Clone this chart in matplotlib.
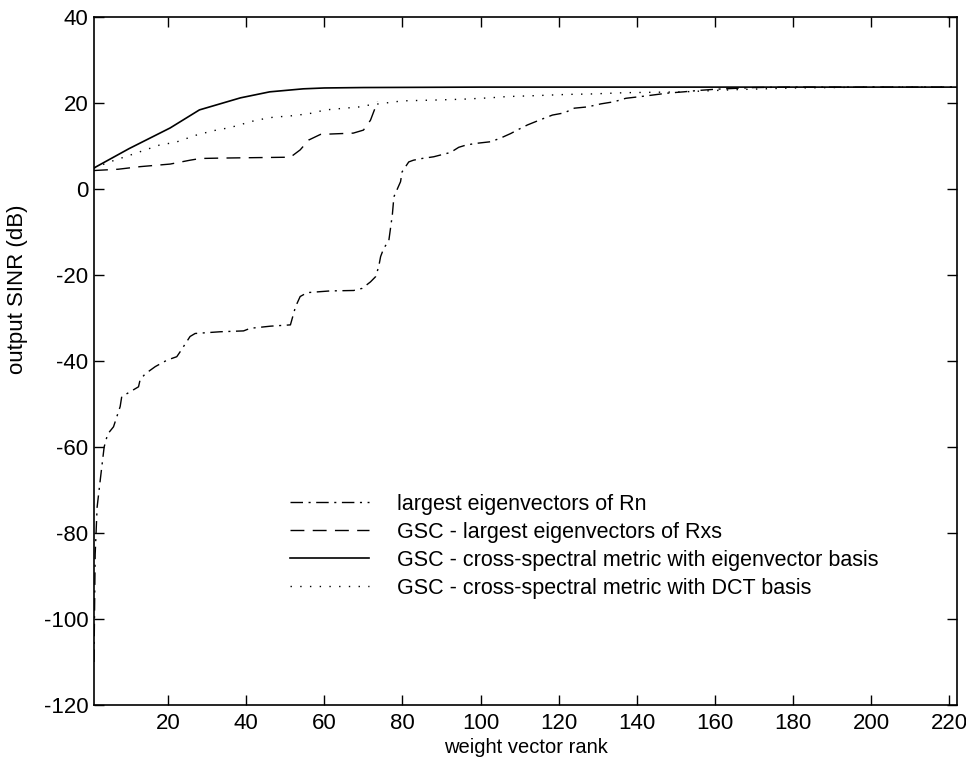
#!/usr/bin/env python3
"""output SINR vs weight vector rank (GSC / eigenvector comparison)"""

import matplotlib
matplotlib.use('Agg')
import matplotlib.pyplot as plt

plt.rcParams['font.family'] = ['Liberation Sans', 'DejaVu Sans']
plt.rcParams['axes.unicode_minus'] = False

# largest eigenvectors of Rn (dash-dot)
rn_rank = [1, 1.3, 1.8, 2.6, 3.6, 4.5, 6, 7.7, 8.1, 9.8, 12.4, 12.8, 14.1, 16.7,
           19.7, 22.2, 23.1, 25.6, 26.9, 33.3, 39.3, 41, 46.2, 51.3, 52.6, 53.8,
           55.6, 61.5, 67.5, 69.7, 71.8, 73.1, 73.9, 74.4, 75.2, 76.5, 77.4, 77.8,
           79.5, 79.9, 81.6, 82.8, 85, 88, 89.7, 92.3, 94.4, 96.2, 98.7, 102.6,
           105, 107.7, 109.8, 112, 115, 118.4, 121.4, 124, 127.4, 130.8, 134.2,
           137.2, 141.9, 147.9, 152, 155.5, 160, 165, 170, 180, 200, 222]
rn_sinr = [-110, -85, -74, -67.7, -60, -57, -55.3, -50.6, -48.3, -47.4, -46, -44.4,
           -43, -41.3, -39.8, -39, -37.8, -34.3, -33.6, -33.2, -33, -32.4, -31.9,
           -31.6, -27.4, -25, -24.1, -23.7, -23.6, -23.1, -21.6, -20.4, -18.1,
           -15.7, -13.8, -12, -6, -1.8, 1.7, 4.0, 6.3, 6.7, 7.1, 7.5, 7.9, 8.5,
           9.7, 10.2, 10.6, 11.0, 11.8, 12.9, 13.9, 14.9, 16, 17.2, 17.7, 18.8,
           19.1, 19.8, 20.3, 21.1, 21.6, 22.3, 22.6, 22.9, 23.2, 23.4, 23.6,
           23.7, 23.7, 23.7]

# GSC - largest eigenvectors of Rxs (dashed)
rxs_rank = [1, 7.2, 12.8, 20.5, 25.6, 28.2, 34, 51.3, 53.8, 56, 59, 67.4, 70,
            71.8, 73.1, 73.6]
rxs_sinr = [4.3, 4.6, 5.2, 5.8, 6.7, 7.1, 7.2, 7.4, 9.1, 11.4, 12.7, 13.0, 13.7,
            16, 19.1, 20.4]

# GSC - cross-spectral metric, eigenvector basis (solid)
csm_rank = [1, 10, 20.5, 28, 38.5, 46, 54.6, 60, 70, 100, 222]
csm_sinr = [4.9, 9.4, 14.2, 18.4, 21.2, 22.6, 23.3, 23.5, 23.6, 23.7, 23.7]

# GSC - cross-spectral metric, DCT basis (dotted)
dct_rank = [1, 5, 10, 17.7, 22, 27.4, 31.8, 35.9, 42.5, 46.9, 51.3, 56, 60.3,
            69, 71.3, 80, 88.7, 95.7, 102.3, 106.8, 113.6, 122.2, 128.2, 137,
            152, 165, 180, 200, 222]
dct_sinr = [4.9, 6.3, 7.8, 10.2, 10.9, 12.6, 13.6, 14.3, 16.0, 16.7, 17.0, 17.5,
            18.4, 19.1, 19.5, 20.5, 20.7, 20.9, 21.2, 21.5, 21.7, 22.0, 22.1,
            22.4, 22.6, 23.1, 23.5, 23.7, 23.7]

labels = ['largest eigenvectors of Rn',
          'GSC - largest eigenvectors of Rxs',
          'GSC - cross-spectral metric with eigenvector basis',
          'GSC - cross-spectral metric with DCT basis']

fig = plt.figure(figsize=(9.66, 7.6), dpi=100)
ax = fig.add_axes([0.0973, 0.0724, 0.8934, 0.9052])

ax.plot(rn_rank, rn_sinr, color='black', linewidth=1.0,
        linestyle=(0, (9, 4, 1.5, 4)), label=labels[0])
ax.plot(rxs_rank, rxs_sinr, color='black', linewidth=1.0,
        linestyle=(0, (10, 6)), label=labels[1])
ax.plot(csm_rank, csm_sinr, color='black', linewidth=1.2,
        linestyle='-', label=labels[2])
ax.plot(dct_rank, dct_sinr, color='black', linewidth=1.0,
        linestyle=(0, (1, 6)), label=labels[3])

ax.set_xlim(1, 222)
ax.set_ylim(-120, 40)
ax.set_xticks(range(20, 221, 20))
ax.set_yticks(range(-120, 41, 20))
ax.tick_params(direction='in', length=7, width=1, top=True, right=True,
               labelsize=16)
ax.tick_params(axis='x', pad=6)
ax.tick_params(axis='y', pad=4)
for s in ax.spines.values():
    s.set_linewidth(1.2)

ax.set_xlabel('weight vector rank', fontsize=14.5, labelpad=3)
ax.set_ylabel('output SINR (dB)', fontsize=16)
ax.yaxis.set_label_coords(-0.077, 0.605)

ax.legend(loc='upper left', bbox_to_anchor=(0.300, 0.350),
          bbox_transform=fig.transFigure, frameon=False, fontsize=15.5,
          handlelength=3.7, handletextpad=1.3, labelspacing=0.32,
          borderpad=0, borderaxespad=0)

plt.savefig('out.png', dpi=100)
plt.close()
